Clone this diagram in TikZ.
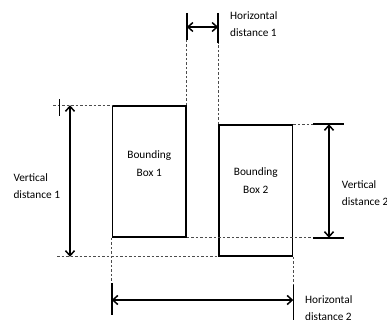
\documentclass[tikz,border=0pt]{standalone}
\usepackage{fontspec}
\setmainfont{Carlito}
\usetikzlibrary{arrows.meta,calc,positioning}
\colorlet{extgray}{black!70}
\tikzset{
  bbox/.style={draw,line width=1.6pt,minimum width=73.5pt,minimum height=131pt,inner sep=0pt},
  boxtext/.style={anchor=base,align=center,inner sep=0pt,font=\fontsize{11.3}{18}\selectfont},
  dimlabel/.style={anchor=base west,align=left,inner sep=0pt,font=\fontsize{11.3}{17}\selectfont},
  dimline/.style={line width=1.5pt,<->},
  extline/.style={extgray,line width=0.7pt,dash pattern=on 2.5pt off 2pt},
  tickbar/.style={line width=1.6pt},
}

\begin{document}
\begin{tikzpicture}[x=1pt,y=-1pt,>={Straight Barb[length=5pt,width=9pt]}]
\useasboundingbox (0,0) rectangle (387,320);
% the two boxes (text placed by its last line)
\node[bbox] (box1) at (149.25,171.5) {};
\node[bbox] (box2) at (255.75,190.5) {};
\node[boxtext] (txt1) at ([yshift=-71.3pt]box1.north) {Bounding\\Box 1};
\node[boxtext] (txt2) at ([yshift=-69.7pt]box2.north) {Bounding\\Box 2};

% horizontal distance 1
\coordinate (h1l) at (box1.north east |- 0,27);
\coordinate (h1r) at (box2.north west |- 0,27);
\draw[extline] (box1.north east) -- (h1l |- 0,40);
\draw[extline] (box2.north west) -- (h1r |- 0,43);
\draw[tickbar] (h1l |- 0,13) -- (h1l |- 0,40);
\draw[tickbar] (h1r |- 0,13) -- (h1r |- 0,43);
\draw[dimline] (h1l) -- (h1r);
\node[dimlabel] (lh1) at (230,37) {Horizontal\\distance 1};

% vertical distance 1
\coordinate (v1t) at (box1.north -| 70,0);
\coordinate (v1b) at (box2.south -| 70,0);
\draw[extline] (box1.north west -| 53,0) -- (box1.north west);
\draw[extline] (box2.south west -| 57,0) -- (box2.south west);
\draw[line width=0.8pt] (v1t -| 59,0) ++(0,-6) -- ++(0,17);
\draw[dimline] (v1t) -- (v1b);
\node[dimlabel] (lv1) at (13.3,198.3) {Vertical\\distance 1};

% vertical distance 2
\coordinate (v2t) at (box2.north east -| 329,0);
\coordinate (v2b) at (box1.south east -| 329,0);
\draw[extline] (box2.north east) -- (v2t -| 313,0);
\draw[extline] (box1.south east) -- (v2b -| 313,0);
\draw[tickbar] (v2t -| 313,0) -- (v2t -| 344,0);
\draw[tickbar] (v2b -| 313,0) -- (v2b -| 344,0);
\draw[dimline] (v2t) -- (v2b);
\node[dimlabel] (lv2) at (341.7,205) {Vertical\\distance 2};

% horizontal distance 2
\coordinate (h2l) at (box1.south west |- 0,300);
\coordinate (h2r) at (box2.south east |- 0,300);
\draw[extline] (box1.south west) -- (h2l |- 0,283);
\draw[extline] (box2.south east) -- (h2r |- 0,285);
\draw[tickbar] (h2l |- 0,283) -- (h2l |- 0,315);
\draw[tickbar] (h2r |- 0,285) -- (h2r |- 0,322);
\draw[dimline] (h2l) -- (h2r);
\node[dimlabel] (lh2) at (305,320.3) {Horizontal\\distance 2};
\end{tikzpicture}
\end{document}
